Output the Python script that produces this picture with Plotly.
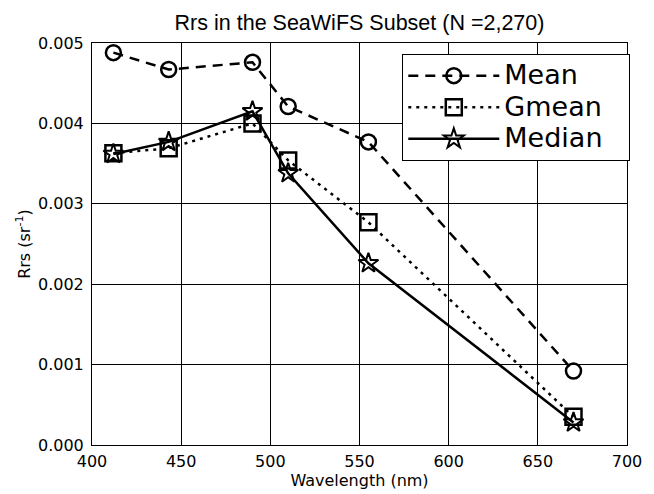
import plotly.graph_objects as go

wavelength = [412, 443, 490, 510, 555, 670]
mean_rrs = [0.00488, 0.00467, 0.00476, 0.00421, 0.00377, 0.00092]
gmean_rrs = [0.00363, 0.00369, 0.00400, 0.00354, 0.00277, 0.00035]
median_rrs = [0.00362, 0.00377, 0.00415, 0.00338, 0.00226, 0.00028]
series_names = ["Mean", "Gmean", "Median"]

x_ticks = [400, 450, 500, 550, 600, 650, 700]
y_ticks = [0.000, 0.001, 0.002, 0.003, 0.004, 0.005]


def legend_label(name):
    return '<span style="font-size:27px">' + name + "</span>" + "\u00a0" * 3


fig = go.Figure()
fig.add_trace(go.Scatter(
    x=wavelength, y=mean_rrs, name=legend_label(series_names[0]), mode="lines+markers",
    line=dict(color="black", width=2.5, dash="10px,7px"),
    marker=dict(symbol="circle-open", size=15, color="black", line=dict(width=2.5, color="black")),
))
fig.add_trace(go.Scatter(
    x=wavelength, y=gmean_rrs, name=legend_label(series_names[1]), mode="lines+markers",
    line=dict(color="black", width=2.5, dash="3px,5px"),
    marker=dict(symbol="square-open", size=16, color="black", line=dict(width=2.5, color="black")),
))
fig.add_trace(go.Scatter(
    x=wavelength, y=median_rrs, name=legend_label(series_names[2]), mode="lines+markers",
    line=dict(color="black", width=2.5),
    marker=dict(symbol="star-open", size=15, color="black", line=dict(width=2, color="black")),
))

axis_common = dict(
    showline=True, linecolor="black", linewidth=1, mirror=True,
    showgrid=True, gridcolor="black", gridwidth=0.8,
    zeroline=False, ticks="",
    tickfont=dict(family="DejaVu Sans", size=16, color="black"),
)

fig.update_layout(
    width=654, height=494,
    margin=dict(l=92, r=18, t=43, b=39),
    paper_bgcolor="white", plot_bgcolor="white",
    title=dict(text="Rrs in the SeaWiFS Subset (N =2,270)",
               font=dict(family="Liberation Sans", size=21.5, color="black"),
               x=0.5, xref="paper", xanchor="center",
               y=1, yref="paper", yanchor="bottom", pad=dict(b=13)),
    xaxis=dict(range=[400, 700], tickvals=x_ticks, ticktext=[str(v) for v in x_ticks],
               title=dict(text="Wavelength (nm)", font=dict(family="DejaVu Sans", size=16, color="black"), standoff=0),
               ticklabelstandoff=2,
               **axis_common),
    yaxis=dict(range=[0, 0.005], tickvals=y_ticks, ticktext=[f"{v:.3f}" for v in y_ticks],
               title=dict(text="Rrs (sr<sup>-1</sup>)", font=dict(family="DejaVu Sans", size=16, color="black"), standoff=3),
               ticklabelstandoff=4,
               **axis_common),
    showlegend=True,
    legend=dict(x=0.58, y=0.973, xanchor="left", yanchor="top",
                bgcolor="white", bordercolor="black", borderwidth=1,
                font=dict(family="DejaVu Sans", size=22, color="black"),
                itemwidth=91),
)

fig.write_html("out.html")
